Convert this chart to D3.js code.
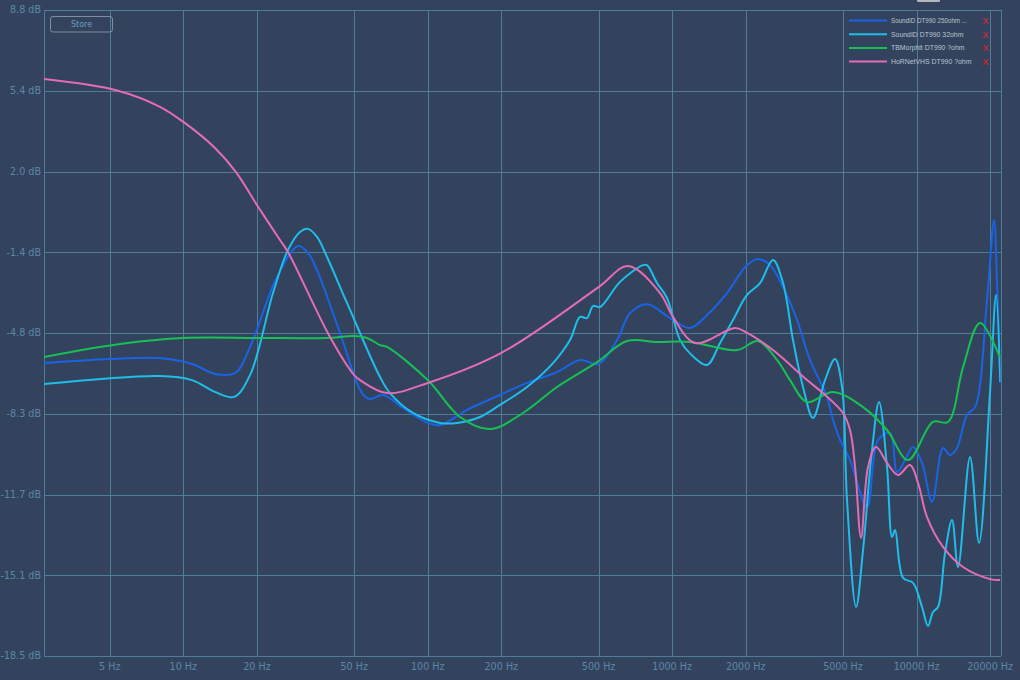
<!DOCTYPE html>
<html><head><meta charset="utf-8">
<script src="https://cdn.jsdelivr.net/npm/d3@7"></script>
<style>
html,body{margin:0;padding:0;background:#34435d;}
svg{display:block;}
</style></head>
<body>
<svg id="chart" width="1020" height="680"></svg>
<script>
// ---- data ----
const seriesNames = ["SoundID DT990 250ohm ...", "SoundID DT990 32ohm", "TBMorphit DT990 ?ohm", "HoRNetVHS DT990 ?ohm"];
const seriesColors = ["#1864e4", "#1fbde9", "#16c054", "#e46cb6"];

const xTickHz = [5, 10, 20, 50, 100, 200, 500, 1000, 2000, 5000, 10000, 20000];
const xTickLabels = ["5 Hz","10 Hz","20 Hz","50 Hz","100 Hz","200 Hz","500 Hz","1000 Hz","2000 Hz","5000 Hz","10000 Hz","20000 Hz"];
const yTickLabels = ["8.8 dB","5.4 dB","2.0 dB","-1.4 dB","-4.8 dB","-8.3 dB","-11.7 dB","-15.1 dB","-18.5 dB"];
const dbRange = [-18.5, 8.8];
const hzRange = [2.69, 22050];

const soundId250 = [
 [2.69,-6.12],[5.01,-5.95],[8.02,-5.91],[10.85,-6.16],[13.47,-6.58],[16.3,-6.54],[18.74,-5.44],
 [24.16,-2.48],[29.45,-1.17],[32.36,-1.47],[35.23,-2.19],[43.76,-4.85],[53.83,-7.39],[58.04,-7.64],
 [65.6,-7.47],[79.2,-8.02],[100,-8.65],[112.2,-8.74],[144.7,-8.10],[197.5,-7.47],[254.7,-6.96],
 [337.9,-6.50],[419.8,-5.99],[497.3,-6.16],[594.9,-5.15],[672.3,-4.01],[789,-3.63],[979.9,-4.22],
 [1183,-4.64],[1389,-4.09],[1676,-3.16],[2024,-1.98],[2245,-1.72],[2514,-1.98],[2842,-2.91],
 [3243,-4.30],[3664,-5.99],[4301,-7.55],[4551,-8.53],[4862,-9.37],[5342,-10.22],[6271,-12.20],
 [6956,-9.37],[7788,-9.08],[8318,-10.72],[8972,-10.22],[9672,-9.67],[10527,-10.34],[11567,-11.99],
 [12830,-9.71],[13704,-10.01],[14638,-9.71],[16090,-8.31],[17350,-7.98],[19426,-3.46],[20750,-0.07],
 [21345,-2.74],[22000,-6.96]
];
const soundId32 = [
 [2.69,-7.01],[8.02,-6.67],[10.85,-6.84],[13.47,-7.34],[16.12,-7.55],[18.74,-6.63],[23.27,-3.16],
 [26.8,-1.34],[30.01,-0.58],[32.36,-0.45],[35.23,-0.79],[38.71,-1.64],[46.72,-3.58],[63.77,-6.71],
 [70.06,-7.39],[87,-8.23],[112.2,-8.65],[131.8,-8.65],[163.6,-8.40],[197.5,-7.89],[254.7,-7.13],
 [325.5,-6.12],[381.9,-5.15],[419.8,-4.17],[448.3,-4.22],[474.4,-3.71],[506.8,-3.75],[611.8,-2.69],
 [759.8,-1.98],[789,-1.98],[867,-2.74],[952.7,-3.37],[1077,-5.15],[1183,-5.71],[1389,-6.20],
 [1570,-5.27],[1774,-4.30],[2024,-3.24],[2288,-2.74],[2586,-1.76],[2842,-2.74],[3122,-5.15],
 [3431,-7.13],[3770,-8.44],[4221,-6.84],[4638,-5.95],[4955,-7.13],[5193,-11.91],[5655,-16.43],
 [6039,-14.02],[6574,-9.79],[7022,-7.77],[7570,-10.51],[7937,-13.47],[8164,-13.18],[8804,-15.20],
 [9672,-15.41],[10527,-16.43],[11141,-17.23],[11676,-16.64],[12239,-16.43],[13072,-14.15],
 [13965,-12.75],[14777,-14.74],[16549,-10.09],[18016,-13.72],[20000,-7.26],[21145,-3.24],[22000,-6.92]
];
const tbMorphit = [
 [2.69,-5.86],[5.51,-5.31],[10,-5.06],[20,-5.06],[38.71,-5.06],[49.44,-4.98],[56.42,-5.06],
 [63.77,-5.36],[68.1,-5.44],[100,-6.84],[135.5,-8.40],[179.8,-8.91],[245.3,-8.23],[337.9,-7.13],
 [492.6,-6.08],[653.6,-5.19],[867,-5.23],[1183,-5.23],[1843,-5.57],[2245,-5.19],[2685,-5.99],
 [3035,-6.84],[3563,-7.77],[4551,-7.34],[6039,-7.98],[7570,-8.95],[9226,-10.22],[11676,-8.61],
 [13448,-8.61],[15494,-6.29],[18187,-4.43],[22000,-5.91]
];
const hornetVhs = [
 [2.69,5.88],[5.35,5.40],[8.02,4.71],[10,4.07],[13.47,2.97],[16.42,1.95],[20,0.56],[24.85,-0.92],
 [26.8,-1.43],[39.8,-5.02],[50,-6.63],[52.82,-6.84],[68.1,-7.39],[100,-6.96],[200,-5.69],
 [500,-2.91],[659.8,-2.02],[891.9,-3.16],[1008,-4.17],[1240,-5.27],[1808,-4.64],[2000,-4.81],
 [2586,-5.57],[3563,-6.84],[4142,-7.39],[5000,-8.23],[5342,-8.95],[5602,-10.51],[5926,-13.51],
 [6330,-10.51],[6826,-9.67],[7570,-10.34],[8397,-10.85],[9402,-10.43],[10140,-11.19],[11036,-12.63],
 [12830,-13.89],[15494,-14.74],[20000,-15.25],[22000,-15.29]
];
const allSeries = [soundId250, soundId32, tbMorphit, hornetVhs];

// ---- layout ----
const svg = d3.select("#chart");
const L = 44, R = 1000.5, T = 10, B = 656;
const gridColor = "#4f7d99";
const textColor = "#5a87a6";

const x = d3.scaleLog().domain(hzRange).range([L, R]);
const y = d3.scaleLinear().domain(dbRange).range([B, T]);

svg.append("rect").attr("width",1020).attr("height",680).attr("fill","#34435d");

// small grey tab at top
svg.append("rect").attr("x",917).attr("y",-3).attr("width",23).attr("height",5).attr("rx",1.5).attr("fill","#b4b8bd");

const yTickVals = d3.range(yTickLabels.length).map(i => dbRange[1] - i*(dbRange[1]-dbRange[0])/(yTickLabels.length-1));

const grid = svg.append("g").attr("stroke", gridColor).attr("stroke-width",1).attr("shape-rendering","crispEdges");
yTickVals.forEach(v => {
  grid.append("line").attr("x1",L).attr("x2",R).attr("y1",Math.round(y(v))+0.5).attr("y2",Math.round(y(v))+0.5);
});
xTickHz.concat(hzRange).forEach(v => {
  const px = Math.round(x(v)) + 0.5;
  grid.append("line").attr("x1",px).attr("x2",px).attr("y1",T).attr("y2",B);
});

// axis labels
const fontFam = "'DejaVu Sans', Verdana, sans-serif";
svg.append("g").selectAll("text").data(yTickVals).join("text")
  .attr("x",41).attr("y",d=>y(d)).attr("dy","0.35em")
  .attr("text-anchor","end").attr("font-family",fontFam).attr("font-size",9.6)
  .attr("fill",textColor).text((d,i)=>yTickLabels[i]);
svg.append("g").selectAll("text").data(xTickHz).join("text")
  .attr("x",d=>x(d)).attr("y",667).attr("dy","0.35em")
  .attr("text-anchor","middle").attr("font-family",fontFam).attr("font-size",9.6)
  .attr("fill",textColor).text((d,i)=>xTickLabels[i]);

// curves
svg.append("clipPath").attr("id","plotclip").append("rect")
  .attr("x",L).attr("y",T).attr("width",R-L).attr("height",B-T);
const line = d3.line().x(d=>x(d[0])).y(d=>y(d[1])).curve(d3.curveCatmullRom.alpha(0.5));
const curves = svg.append("g").attr("clip-path","url(#plotclip)");
allSeries.forEach((s,i) => {
  curves.append("path").datum(s).attr("d",line).attr("fill","none")
    .attr("stroke",seriesColors[i]).attr("stroke-width",2).attr("stroke-linejoin","round");
});

// store button
const btn = svg.append("g");
btn.append("rect").attr("x",50.5).attr("y",16.5).attr("width",62).attr("height",15.5).attr("rx",2.5)
  .attr("fill","none").attr("stroke","#7d8ea2").attr("stroke-width",1);
btn.append("text").attr("x",81.5).attr("y",24.5).attr("dy","0.35em").attr("text-anchor","middle")
  .attr("font-family",fontFam).attr("font-size",8).attr("fill","#6c9cc4").text("Store");

// legend
const leg = svg.append("g");
seriesNames.forEach((n,i) => {
  const ly = 20.5 + i*13.7;
  leg.append("line").attr("x1",849).attr("x2",887).attr("y1",ly).attr("y2",ly)
    .attr("stroke",seriesColors[i]).attr("stroke-width",2);
  const t = leg.append("text").attr("x",891).attr("y",ly).attr("dy","0.35em")
    .attr("font-family","'Liberation Sans', Arial, sans-serif").attr("font-size",6.9)
    .attr("fill","#b9c4d2").text(n);
  if (i === 0) t.attr("textLength",76).attr("lengthAdjust","spacingAndGlyphs");
  leg.append("text").attr("x",985.5).attr("y",ly).attr("dy","0.36em").attr("text-anchor","middle")
    .attr("font-family","'Liberation Sans', Arial, sans-serif").attr("font-size",9.5)
    .attr("fill","#e3202c").text("X");
});
</script>
</body></html>
